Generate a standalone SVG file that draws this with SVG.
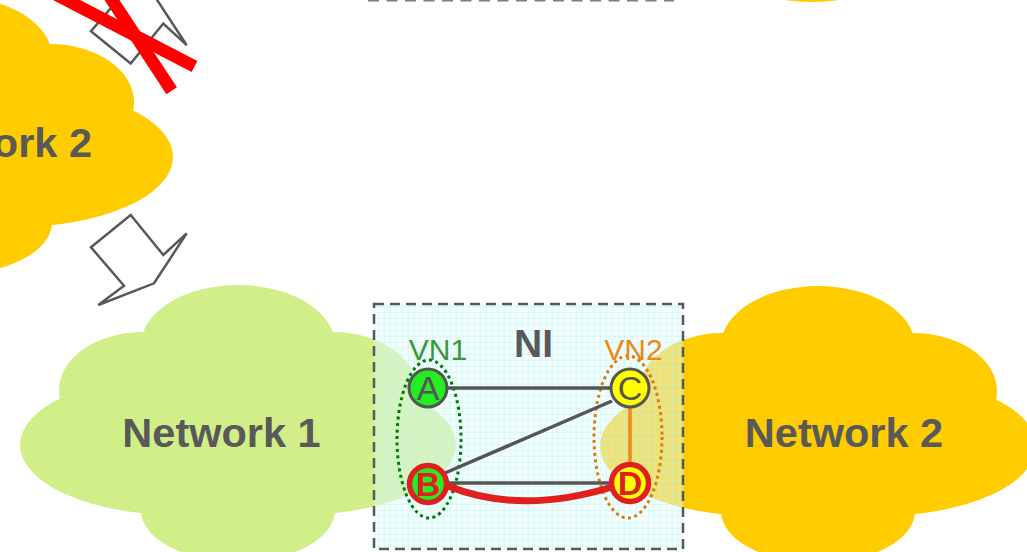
<svg xmlns="http://www.w3.org/2000/svg" width="1027" height="552" viewBox="0 0 1027 552">
<style>
.lbl{font-family:"Liberation Sans",Arial,sans-serif;font-weight:bold;fill:#595959}
.node-t{font-family:"Liberation Sans",Arial,sans-serif;font-size:34px;text-anchor:middle}
.edge{stroke:#555555;stroke-width:3.5;fill:none}
.arrow{fill:#ffffff;stroke:#595959;stroke-width:2.5;stroke-linejoin:miter}
.dot{fill:none;stroke-width:3;stroke-dasharray:3 3.5}
</style>
<defs>
<g id="cloud">
<ellipse cx="0" cy="60" rx="97" ry="60"/>
<ellipse cx="-95" cy="105" rx="84" ry="58"/>
<ellipse cx="95" cy="105" rx="84" ry="58"/>
<ellipse cx="-60" cy="160" rx="158" ry="70"/>
<ellipse cx="60" cy="160" rx="158" ry="70"/>
<ellipse cx="0" cy="225" rx="97" ry="52"/>
<ellipse cx="0" cy="150" rx="140" ry="90"/>
</g>
<pattern id="grid" width="6" height="6" patternUnits="userSpaceOnUse">
<rect width="6" height="6" fill="#dcfafa" fill-opacity="0.45"/>
<path d="M0 0.5H6M0.5 0V6" stroke="#c4f2f2" stroke-width="1" stroke-opacity="0.4"/>
</pattern>
</defs>

<g id="top-left-cloud">
<use href="#cloud" transform="translate(-45,-3)" fill="#ffcc00"/>
<text class="lbl" x="92" y="157" font-size="41.5" text-anchor="end">Network 2</text>
</g>
<g id="top-right-cloud">
<ellipse cx="812" cy="-50" rx="97" ry="52" fill="#ffcc00"/>
</g>
<g id="top-ni-edge">
<line x1="368" y1="0" x2="674" y2="0" stroke="#7f7f7f" stroke-width="3" stroke-dasharray="11 7.5"/>
</g>

<g id="arrow-crossed">
<polygon class="arrow" points="91,31.2 130.7,63.5 163.3,23.5 186.7,45.2 154,-4.8 98.3,-26.5 124,-7.2"/>
<line x1="55" y1="-6" x2="194.5" y2="66.5" stroke="#ff0000" stroke-width="12.5"/>
<line x1="106.7" y1="-8" x2="171.7" y2="90.8" stroke="#ff0000" stroke-width="12.5"/>
</g>
<g id="arrow-down">
<polygon class="arrow" points="91,247.3 130.7,215 163.3,255 186.7,233.3 154,283.3 98.3,305 124,285.7"/>
</g>

<g id="network1">
<use href="#cloud" transform="translate(238,285)" fill="#d0ef88"/>
<text class="lbl" x="221.5" y="447" font-size="41.5" text-anchor="middle">Network 1</text>
</g>
<g id="network2">
<use href="#cloud" transform="translate(818,286)" fill="#ffcc00"/>
<text class="lbl" x="844" y="447" font-size="41.5" text-anchor="middle">Network 2</text>
</g>

<g id="NI">
<rect x="374" y="304" width="309" height="245" fill="url(#grid)" stroke="#595959" stroke-width="2.5" stroke-dasharray="10 6"/>
<text class="lbl" x="533.5" y="357" font-size="39" text-anchor="middle">NI</text>
</g>

<g id="VN1">
<ellipse class="dot" cx="429" cy="439" rx="32" ry="79" stroke="#007a00"/>
<text x="438" y="360" font-family="Liberation Sans, Arial, sans-serif" font-size="30" fill="#3a973a" text-anchor="middle">VN1</text>
</g>
<g id="VN2">
<ellipse class="dot" cx="628" cy="437" rx="34" ry="81" stroke="#dd7a11"/>
<text x="633.5" y="360" font-family="Liberation Sans, Arial, sans-serif" font-size="30" fill="#ee8811" text-anchor="middle">VN2</text>
</g>

<g id="connectors">
<line class="edge" x1="448" y1="388" x2="610" y2="388"/>
<line class="edge" x1="445" y1="473" x2="612" y2="401"/>
<line class="edge" x1="448" y1="483" x2="610" y2="483"/>
<line x1="630" y1="406" x2="630" y2="464" stroke="#ee8822" stroke-width="3.5"/>
<path d="M448,486 Q520,515 612,487" fill="none" stroke="#e0201c" stroke-width="7"/>
</g>

<g id="node-A">
<circle cx="428" cy="388" r="19" fill="#22ee22" stroke="#555555" stroke-width="3"/>
<text class="node-t" x="428" y="400" fill="#555555">A</text>
</g>
<g id="node-C">
<circle cx="630" cy="388" r="19" fill="#ffff00" stroke="#555555" stroke-width="3"/>
<text class="node-t" x="630" y="400" fill="#555555">C</text>
</g>
<g id="node-B">
<circle cx="428" cy="484" r="18.5" fill="#22ee22" stroke="#e02020" stroke-width="5.5"/>
<text class="node-t" x="428" y="496" fill="#e02020" font-weight="bold">B</text>
</g>
<g id="node-D">
<circle cx="630" cy="483" r="18.5" fill="#ffff00" stroke="#e02020" stroke-width="5.5"/>
<text class="node-t" x="630" y="495" fill="#e02020" font-weight="bold">D</text>
</g>
</svg>
